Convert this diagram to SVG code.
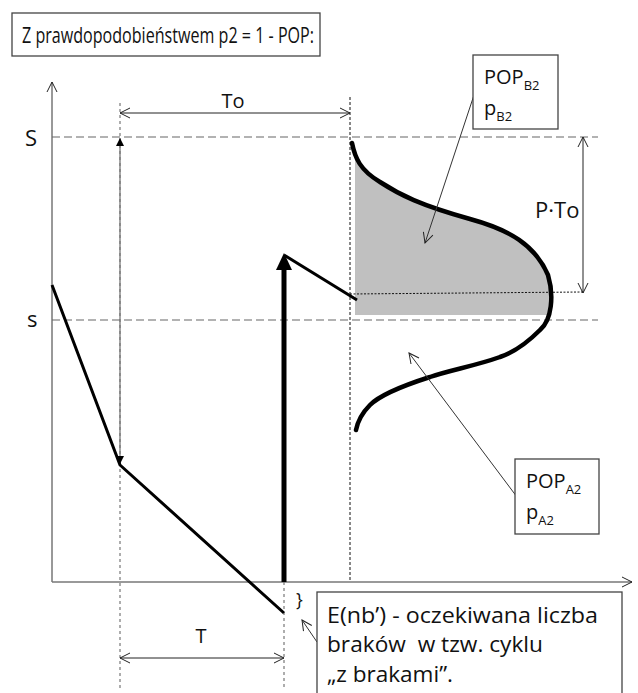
<svg xmlns="http://www.w3.org/2000/svg" width="638" height="693" viewBox="0 0 638 693">
<style>
text{font-family:"Open Sans","Noto Sans",sans-serif;fill:#111}
.box{fill:#fff;stroke:#444;stroke-width:1.3}
.dim{stroke:#222;stroke-width:1;fill:none}
.thin{stroke:#333;stroke-width:1;fill:none}
.dashg{stroke:#666;stroke-width:1.2;stroke-dasharray:8 4;fill:none}
.dashv{stroke:#777;stroke-width:1.2;stroke-dasharray:3 3;fill:none}
.dashk{stroke:#111;stroke-width:1;stroke-dasharray:3 2;fill:none}
.thick{stroke:#000;stroke-width:3;fill:none;stroke-linejoin:round}
.curve{stroke:#000;stroke-width:4.5;fill:none;stroke-linecap:round}
</style>
<defs>
<marker id="open" viewBox="0 0 12 12" refX="11" refY="6" markerWidth="12" markerHeight="12" markerUnits="userSpaceOnUse" orient="auto-start-reverse">
<path d="M1,1 L11,6 L1,11" fill="none" stroke="#222" stroke-width="1"/>
</marker>
<marker id="fill" viewBox="0 0 8 8" refX="8" refY="4" markerWidth="8" markerHeight="8" markerUnits="userSpaceOnUse" orient="auto-start-reverse">
<path d="M0,0 L8,4 L0,8 Z" fill="#000"/>
</marker>
</defs>

<g id="title">
<rect class="box" x="12" y="13" width="308" height="43"/>
<text x="22" y="43" font-size="21.5" textLength="292" lengthAdjust="spacingAndGlyphs">Z prawdopodobieństwem p2 = 1 - POP:</text>
</g>

<g id="axes">
<line x1="52" y1="582" x2="52" y2="82" class="thin" marker-end="url(#open)"/>
<line x1="52" y1="582" x2="632" y2="582" stroke="#777" stroke-width="1.5" marker-end="url(#open)"/>
<text x="25" y="146" font-size="22">S</text>
<text x="27" y="327" font-size="22">s</text>
</g>

<g id="guides">
<line class="dashg" x1="52" y1="137" x2="598" y2="137"/>
<line class="dashg" x1="52" y1="320" x2="598" y2="320"/>
<line class="dashv" x1="120" y1="103" x2="120" y2="690"/>
<line class="dashv" x1="284" y1="582" x2="284" y2="690"/>
<line class="dashk" x1="350" y1="97" x2="350" y2="582"/>
</g>

<g id="distribution">
<path d="M352,143 C355,158 360,170 380,182 C400,195 420,205 470,219 C510,230 535,245 548,275 C552,290 552,305 550,315 L355,315 L355,146 Z" fill="#c0c0c0"/>
<line x1="350" y1="294" x2="583" y2="292" stroke="#111" stroke-width="1" stroke-dasharray="2 1.5"/>
<path class="curve" d="M352,143 C355,158 360,170 380,182 C400,195 420,205 470,219 C510,230 535,245 548,275 C554,295 552,320 540,330 C530,340 515,352 500,357 C475,366 450,370 430,377 C405,385 380,395 370,405 C362,413 358,420 356,430"/>
</g>

<g id="connectors">
<line class="dim" x1="120" y1="113" x2="350" y2="113" marker-start="url(#open)" marker-end="url(#open)"/>
<line class="dim" x1="120" y1="658" x2="284" y2="658" marker-start="url(#open)" marker-end="url(#open)"/>
<line class="dim" x1="583" y1="137" x2="583" y2="293" marker-start="url(#open)" marker-end="url(#open)"/>
<line x1="120" y1="138" x2="120" y2="464" stroke="#777" stroke-width="1.3" marker-start="url(#fill)" marker-end="url(#fill)"/>
<polyline class="thick" points="52,285 120,465 284,613"/>
<line x1="284" y1="582" x2="284" y2="268" stroke="#000" stroke-width="5"/>
<path d="M276,270 L284,253 L292,270 Z" fill="#000"/>
<line x1="284" y1="255" x2="357" y2="300" class="thick"/>
<line class="thin" x1="475" y1="92" x2="425" y2="243" marker-end="url(#open)"/>
<line class="thin" x1="517" y1="497" x2="409" y2="353" marker-end="url(#open)"/>
<line class="thin" x1="317" y1="642" x2="302" y2="620" marker-end="url(#open)"/>
<text x="233" y="108" font-size="20" text-anchor="middle">To</text>
<text x="201" y="643" font-size="20" text-anchor="middle">T</text>
<text x="535" y="218" font-size="22">P·To</text>
<text x="296" y="606" font-size="18" font-family="Liberation Serif,serif" fill="#222">}</text>
</g>

<g id="popB2">
<rect class="box" x="473" y="55" width="85" height="74"/>
<text x="484" y="84" font-size="20">POP<tspan font-size="13" dy="6">B2</tspan></text>
<text x="484" y="115" font-size="20">p<tspan font-size="13" dy="6">B2</tspan></text>
</g>

<g id="popA2">
<rect class="box" x="515" y="459" width="84" height="75"/>
<text x="526" y="488" font-size="20">POP<tspan font-size="13" dy="6">A2</tspan></text>
<text x="526" y="519" font-size="20">p<tspan font-size="13" dy="6">A2</tspan></text>
</g>

<g id="enb">
<rect class="box" x="317" y="592" width="305" height="115"/>
<text x="327" y="623" font-size="22" textLength="271" lengthAdjust="spacingAndGlyphs">E(nb’) - oczekiwana liczba</text>
<text x="327" y="652" font-size="22" textLength="216" lengthAdjust="spacingAndGlyphs" style="white-space:pre">braków  w tzw. cyklu</text>
<text x="327" y="682" font-size="22" textLength="126" lengthAdjust="spacingAndGlyphs">„z brakami”.</text>
</g>
</svg>
